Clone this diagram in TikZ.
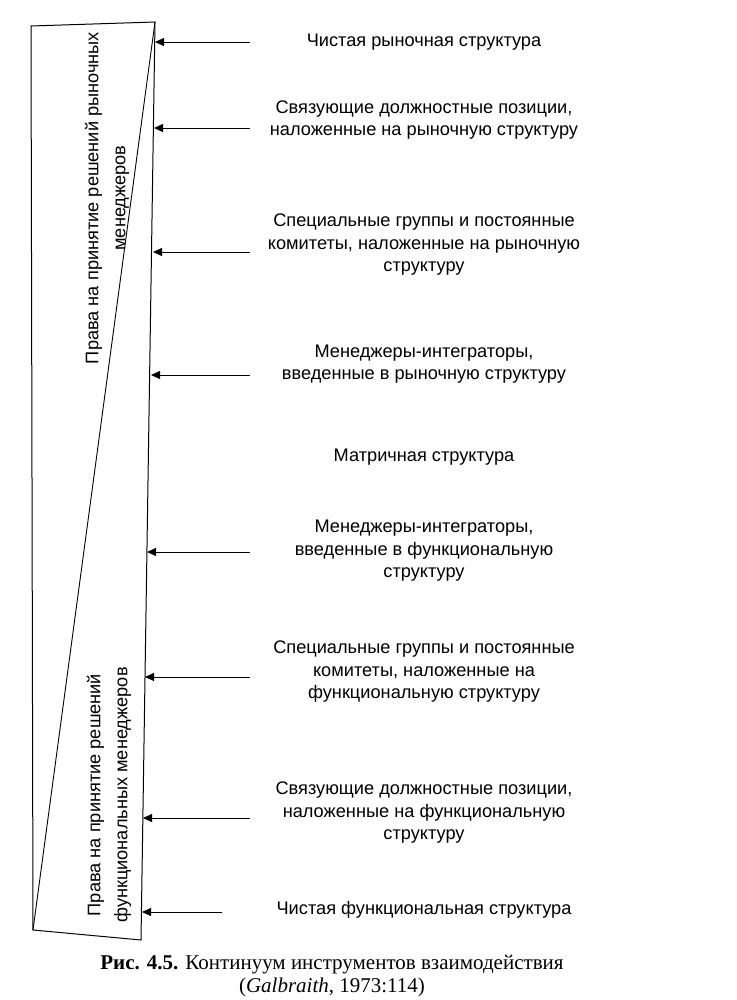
\documentclass[tikz,border=0pt]{standalone}
\usepackage{fontspec}
\setmainfont{Liberation Sans}
\newfontfamily\capfont{Liberation Serif}
\usetikzlibrary{arrows.meta}
\begin{document}
\begin{tikzpicture}[x=1pt,y=-1pt,
  lbl/.style={align=center,font=\fontsize{18.2}{22.5}\selectfont},
  arr/.style={-{Triangle[length=9pt,width=8pt]},line width=0.8pt},
  vlbl/.style={rotate=90,align=center,font=\fontsize{18.2}{27}\selectfont}]
\useasboundingbox (0,0) rectangle (736,1000);
\coordinate (TL) at (31,26); \coordinate (TR) at (155,22);
\coordinate (BR) at (141,940); \coordinate (BL) at (33,930);
\draw[line width=1pt] (TL) -- (TR) -- (BR) -- (BL) -- cycle;
\draw[line width=0.9pt] (TR) -- (BL);
\node[vlbl] (v1) at (107,198) {Права на принятие решений рыночных\\менеджеров};
\node[vlbl] (v2) at (109,795) {Права на принятие решений\\функциональных менеджеров};
\foreach \n/\y/\tx/\tip/\t in {
 a/42/250/155/{Чистая рыночная структура},
 b/120/250/154/{Связующие должностные позиции,\\наложенные на рыночную структуру},
 c/245/250/153/{Специальные группы и постоянные\\комитеты, наложенные на рыночную\\структуру},
 d/364/250/151/{Менеджеры-интеграторы,\\введенные в рыночную структуру},
 f/551/250/147/{Менеджеры-интеграторы,\\введенные в функциональную\\структуру},
 g/672/250/145/{Специальные группы и постоянные\\комитеты, наложенные на\\функциональную структуру},
 h/813/250/143/{Связующие должностные позиции,\\наложенные на функциональную\\структуру},
 i/910/222/142/{Чистая функциональная структура}}{
  \node[lbl] (\n) at (424,\y) {\t};
}
\foreach \n/\y/\tx/\tip in {a/42/250/155, b/128/250/154, c/252/250/153, d/375/250/151,
 f/552/250/147, g/677/250/145, h/818/250/143, i/912/222/142}{
  \coordinate (\n t) at (\tx,\y);
  \coordinate (\n p) at (\tip,\y);
  \draw[arr] (\n t) -- (\n p);
}
\node[lbl] (e) at (424,457) {Матричная структура};
\node[align=center,font=\capfont\fontsize{21}{23}\selectfont] (cap) at (332,976)
 {\textbf{Рис. 4.5.} Континуум инструментов взаимодействия\\(\textit{Galbraith}, 1973:114)};
\end{tikzpicture}
\end{document}
